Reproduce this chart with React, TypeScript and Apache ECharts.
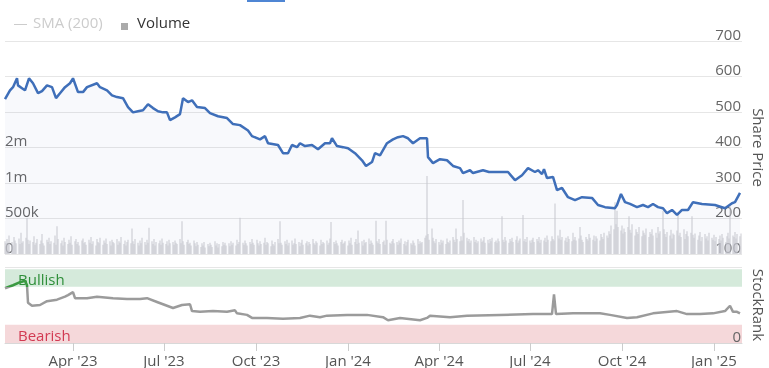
import React, { useEffect, useRef } from 'react';
import * as echarts from 'echarts';

// ---------- data ----------
const priceDates = [
  '2023-01-23','2023-01-28','2023-01-31','2023-02-04','2023-02-05','2023-02-09','2023-02-12','2023-02-16','2023-02-20','2023-02-25',
  '2023-03-01','2023-03-06','2023-03-11','2023-03-15','2023-03-19','2023-03-24','2023-03-29','2023-04-01','2023-04-06','2023-04-11',
  '2023-04-15','2023-04-25','2023-04-28','2023-05-05','2023-05-10','2023-05-15','2023-05-21','2023-05-26','2023-05-31','2023-06-05',
  '2023-06-10','2023-06-15','2023-06-20','2023-06-25','2023-06-30','2023-07-04','2023-07-07','2023-07-12','2023-07-17','2023-07-20',
  '2023-07-25','2023-07-29','2023-08-03','2023-08-11','2023-08-16','2023-08-24','2023-09-02','2023-09-08','2023-09-15','2023-09-23',
  '2023-09-27','2023-10-05','2023-10-10','2023-10-13','2023-10-23','2023-10-28','2023-11-02','2023-11-06','2023-11-11','2023-11-14',
  '2023-11-19','2023-11-26','2023-12-02','2023-12-09','2023-12-14','2023-12-16','2023-12-21','2023-12-27','2024-01-01','2024-01-08',
  '2024-01-15','2024-01-19','2024-01-25','2024-01-28','2024-02-02','2024-02-09','2024-02-15','2024-02-20','2024-02-25','2024-03-01',
  '2024-03-06','2024-03-13','2024-03-20','2024-03-21','2024-03-26','2024-04-02','2024-04-09','2024-04-15','2024-04-22','2024-04-25',
  '2024-05-02','2024-05-05','2024-05-15','2024-05-21','2024-05-30','2024-06-09','2024-06-16','2024-06-23','2024-06-29','2024-07-06',
  '2024-07-09','2024-07-13','2024-07-15','2024-07-18','2024-07-24','2024-07-28','2024-08-02','2024-08-08','2024-08-15','2024-08-22',
  '2024-09-01','2024-09-07','2024-09-14','2024-09-24','2024-09-26','2024-09-30','2024-10-04','2024-10-09','2024-10-16','2024-10-22',
  '2024-10-27','2024-11-01','2024-11-06','2024-11-11','2024-11-15','2024-11-20','2024-11-25','2024-11-30','2024-12-06','2024-12-11',
  '2024-12-20','2025-01-02','2025-01-12','2025-01-19','2025-01-22','2025-01-27',
];
const priceValues = [
  536,561,570,595,575,567,561,595,581,553,
  559,575,570,539,553,570,581,595,556,556,
  570,581,570,561,547,542,539,514,499,502,
  505,522,511,502,499,499,477,485,494,539,
  528,533,514,511,497,488,483,466,463,448,
  432,423,432,412,407,384,384,407,401,412,
  404,407,395,412,412,426,404,401,398,384,
  364,348,359,384,378,412,423,429,432,426,
  412,426,426,373,356,367,364,348,342,328,
  336,328,336,331,331,331,308,322,342,331,
  336,325,339,314,317,280,286,260,252,260,
  258,238,232,229,238,269,246,241,232,238,
  232,241,232,229,215,224,210,224,224,246,
  241,238,229,243,246,272,
];

const rankDates = [
  '2023-01-23','2023-01-31','2023-02-07','2023-02-12','2023-02-14','2023-02-15','2023-02-19','2023-02-27','2023-03-06','2023-03-16',
  '2023-03-24','2023-03-27','2023-04-01','2023-04-03','2023-04-15','2023-04-25','2023-05-11','2023-05-25','2023-06-07','2023-06-14',
  '2023-06-24','2023-07-04','2023-07-10','2023-07-19','2023-07-27','2023-07-29','2023-08-06','2023-08-19','2023-09-02','2023-09-10',
  '2023-09-12','2023-09-22','2023-09-27','2023-10-12','2023-10-28','2023-11-14','2023-11-24','2023-12-04','2023-12-11','2023-12-31',
  '2024-01-20','2024-02-05','2024-02-10','2024-02-22','2024-03-13','2024-03-20','2024-03-23','2024-04-12','2024-04-29','2024-06-01',
  '2024-07-04','2024-07-23','2024-07-25','2024-07-27','2024-08-13','2024-09-09','2024-09-19','2024-10-06','2024-10-16','2024-11-01',
  '2024-11-25','2024-12-05','2024-12-18','2024-12-31','2025-01-12','2025-01-17','2025-01-20','2025-01-24','2025-01-27',
];
const rankValues = [
  72,76,80,82,76,53,49,50,55,57,
  61,63,67,59,59,61,59,58,58,59,
  54,49,46,50,51,42,41,42,41,43,
  39,37,33,33,32,33,36,34,36,37,
  37,34,30,33,30,33,36,34,36,37,
  38,38,64,38,39,39,37,33,34,39,
  42,38,38,39,42,49,41,41,39,
];

// daily volume (thousands of shares), one value per trading day from volumeStart
const volumeStart = '2023-01-23';
const volumeK = [
  180,150,210,130,260,170,120,240,190,150,220,140,300,160,180,230,510,200,140,190,
  170,250,130,160,210,140,190,280,150,120,200,170,230,140,180,160,260,130,390,210,
  150,190,120,230,170,140,200,160,250,130,180,210,140,170,120,190,220,150,170,130,
  200,160,240,140,180,120,210,170,150,230,130,190,160,220,140,180,120,200,170,150,
  210,130,180,160,240,140,190,120,170,200,150,360,180,140,210,160,120,190,150,230,
  170,130,200,160,370,180,140,210,120,170,150,190,130,220,160,140,180,120,200,150,
  170,130,190,160,140,210,150,460,180,130,170,200,140,160,120,190,150,110,170,130,
  100,150,120,170,90,140,110,160,130,100,180,120,150,90,140,110,170,130,160,120,
  150,110,180,130,160,120,200,140,170,510,160,130,190,150,120,170,140,210,160,130,
  200,150,120,180,140,160,230,130,170,150,110,190,140,120,170,210,150,460,160,130,
  180,140,200,120,160,190,130,150,220,140,170,110,160,200,130,150,180,120,170,140,
  210,150,130,180,160,120,200,140,170,150,190,130,160,220,450,170,140,190,150,120,
  170,200,140,160,180,120,190,150,230,130,170,210,140,330,160,180,120,200,150,170,
  220,140,190,160,130,470,180,150,210,140,170,190,130,470,200,160,140,180,210,150,
  170,130,190,160,220,140,180,120,170,200,150,130,190,160,120,210,140,180,150,170,
  230,260,1100,280,200,360,230,180,150,210,170,130,200,160,190,140,220,170,150,190,
  240,200,170,360,210,180,250,190,760,300,230,180,210,160,190,240,170,200,150,180,
  220,170,190,240,160,200,150,210,180,230,170,190,160,220,180,530,200,170,240,190,
  160,210,180,230,170,200,250,160,190,220,550,180,210,170,240,190,160,200,230,170,
  210,180,240,160,200,190,230,170,260,200,180,250,210,190,710,260,220,340,200,240,
  190,230,170,250,210,180,300,200,240,190,220,380,260,200,170,240,210,190,280,230,
  200,260,180,250,220,190,280,240,210,300,260,230,320,280,400,350,730,420,610,380,
  330,400,290,360,310,380,530,340,300,420,260,350,310,280,380,250,330,300,270,360,
  240,310,280,350,260,300,230,380,290,320,610,350,280,240,310,260,340,220,290,270,
  330,590,260,300,240,350,210,280,320,250,300,530,270,230,290,200,260,310,180,240,
  280,220,250,190,300,230,200,270,180,240,210,260,190,280,230,170,250,300,220,690,
  260,240,310,220,280,250,290,
];

const axisStart = '2023-01-23';
const axisEnd = '2025-01-29';
const quarterTicks = ['2023-04-01', '2023-07-01', '2023-10-01', '2024-01-01', '2024-04-01', '2024-07-01', '2024-10-01', '2025-01-01'];
const volumeTickLabels: Record<string, string> = { '0': '0', '500000': '500k', '1000000': '1m', '1500000': '2m' };
const monthNames = ['Jan', 'Feb', 'Mar', 'Apr', 'May', 'Jun', 'Jul', 'Aug', 'Sep', 'Oct', 'Nov', 'Dec'];
const bullishRange = [74, 97];
const bearishRange = [0, 24];

// ---------- helpers ----------
const ts = (s: string) => new Date(s + 'T00:00:00').getTime();

function tradingDays(start: string, count: number): number[] {
  const out: number[] = [];
  const d = new Date(start + 'T00:00:00');
  while (out.length < count) {
    const wd = d.getDay();
    if (wd !== 0 && wd !== 6) out.push(d.getTime());
    d.setDate(d.getDate() + 1);
  }
  return out;
}

const FONT = 'Open Sans';
const FS = 15;

export default function App() {
  const ref = useRef<HTMLDivElement>(null);

  useEffect(() => {
    if (!ref.current) return;
    const chart = echarts.init(ref.current, null, { renderer: 'svg' });

    const volDays = tradingDays(volumeStart, volumeK.length);
    const volumeData = volDays.map((t, i) => [t, volumeK[i] * 1000]);
    const priceData = priceDates.map((d, i) => [ts(d), priceValues[i]]);
    const rankData = rankDates.map((d, i) => [ts(d), rankValues[i]]);
    const tickValues = quarterTicks.map(ts);

    const xMin = ts(axisStart);
    const xMax = ts(axisEnd);

    const option: any = {
      animation: false,
      textStyle: { fontFamily: FONT },
      grid: [
        { left: 5, right: 27, top: 41, height: 213, containLabel: false, outerBoundsMode: 'none' },
        { left: 5, right: 27, top: 267, height: 76, containLabel: false, outerBoundsMode: 'none' },
      ],
      xAxis: [
        {
          type: 'value', gridIndex: 0, min: xMin, max: xMax, scale: true,
          axisLine: { show: false }, axisTick: { show: false }, axisLabel: { show: false }, splitLine: { show: false },
        },
        {
          type: 'value', gridIndex: 1, min: xMin, max: xMax, scale: true, z: 10,
          axisLine: { show: true, onZero: false, lineStyle: { color: '#d8d8d8', width: 1 } },
          axisTick: { show: true, length: 8, customValues: tickValues, lineStyle: { color: '#cccccc' } },
          axisLabel: {
            customValues: tickValues,
            color: '#555555', fontSize: FS, margin: 9, fontFamily: FONT,
            formatter: (v: number) => {
              const d = new Date(v);
              return monthNames[d.getMonth()] + " '" + String(d.getFullYear()).slice(2);
            },
          },
          splitLine: { show: false },
        },
      ],
      yAxis: [
        {
          type: 'value', gridIndex: 0, position: 'right', min: 100, max: 700, interval: 100,
          name: 'Share Price', nameLocation: 'middle', nameRotate: -90, nameGap: 7,
          nameTextStyle: { color: '#555555', fontSize: FS, fontFamily: FONT },
          axisLine: { show: false }, axisTick: { show: false },
          axisLabel: { inside: true, color: '#666666', fontSize: FS, verticalAlign: 'bottom', margin: 1, fontFamily: FONT },
          splitLine: { lineStyle: { color: '#e6e6e6', width: 1 } },
        },
        {
          type: 'value', gridIndex: 0, position: 'left', min: 0, max: 3000000, interval: 500000,
          axisLine: { show: false }, axisTick: { show: false }, splitLine: { show: false },
          axisLabel: {
            inside: true, color: '#666666', fontSize: FS, verticalAlign: 'bottom', margin: 0, fontFamily: FONT,
            formatter: (v: number) => volumeTickLabels[String(v)] ?? '',
          },
        },
        {
          type: 'value', gridIndex: 1, position: 'right', min: 0, max: 100, interval: 100, z: 10,
          name: 'StockRank', nameLocation: 'middle', nameRotate: -90, nameGap: 7,
          nameTextStyle: { color: '#555555', fontSize: FS, fontFamily: FONT },
          axisLine: { show: false }, axisTick: { show: false },
          axisLabel: {
            inside: true, color: '#666666', fontSize: FS, verticalAlign: 'bottom', margin: 1, fontFamily: FONT,
            showMinLabel: true,
            formatter: (v: number) => (v === 0 ? '0' : ''),
          },
          splitLine: { lineStyle: { color: '#e6e6e6', width: 1 } },
        },
      ],
      visualMap: {
        type: 'piecewise', show: false, seriesIndex: 3, dimension: 1,
        pieces: [
          { gt: bullishRange[0], lte: 100, color: '#3b9a42' },
          { gte: 0, lte: bullishRange[0], color: '#9b9b9b' },
        ],
      },
      series: [
        {
          name: 'Volume', type: 'bar', xAxisIndex: 0, yAxisIndex: 1, data: volumeData,
          barWidth: 1, itemStyle: { color: '#cbccd2' }, z: 1,
        },
        {
          name: 'Price', type: 'line', xAxisIndex: 0, yAxisIndex: 0, data: priceData,
          symbol: 'none', lineStyle: { color: '#3f6fb9', width: 2.5 },
          areaStyle: { color: 'rgba(70,110,190,0.055)' }, z: 3,
        },
        {
          name: 'Bands', type: 'line', xAxisIndex: 1, yAxisIndex: 2, data: rankData,
          symbol: 'none', lineStyle: { opacity: 0 }, z: 1, silent: true,
          markArea: {
            silent: true,
            data: [
              [
                {
                  name: 'Bullish', yAxis: bullishRange[0], itemStyle: { color: '#d5eadb' },
                  label: { show: true, position: 'insideLeft', distance: 13, offset: [0, 1], color: '#2f8f3a', fontSize: FS, fontFamily: FONT },
                },
                { yAxis: bullishRange[1] },
              ],
              [
                {
                  name: 'Bearish', yAxis: bearishRange[0], itemStyle: { color: '#f5d8da' },
                  label: { show: true, position: 'insideLeft', distance: 13, offset: [0, 1], color: '#d23a52', fontSize: FS, fontFamily: FONT },
                },
                { yAxis: bearishRange[1] },
              ],
            ],
          },
        },
        {
          name: 'StockRank', type: 'line', xAxisIndex: 1, yAxisIndex: 2, data: rankData,
          symbol: 'none', lineStyle: { width: 2.5 }, z: 3,
        },
      ],
      graphic: [
        { type: 'rect', left: 247, top: 0, shape: { width: 38, height: 2 }, style: { fill: '#4f86d4' } },
        { type: 'line', shape: { x1: 14, y1: 24.5, x2: 27, y2: 24.5 }, style: { stroke: '#cccccc', lineWidth: 1 } },
        { type: 'text', left: 33, top: 14, style: { text: 'SMA (200)', fill: '#cccccc', fontSize: FS, fontFamily: FONT } },
        { type: 'rect', left: 121, top: 23, shape: { width: 7, height: 7 }, style: { fill: '#aaaaaa' } },
        { type: 'text', left: 137, top: 14, style: { text: 'Volume', fill: '#333333', fontSize: FS, fontFamily: FONT } },
      ],
    };

    chart.setOption(option);
    return () => chart.dispose();
  }, []);

  return <div ref={ref} style={{ position: 'fixed', left: 0, top: 0, width: 769, height: 368 }} />;
}
